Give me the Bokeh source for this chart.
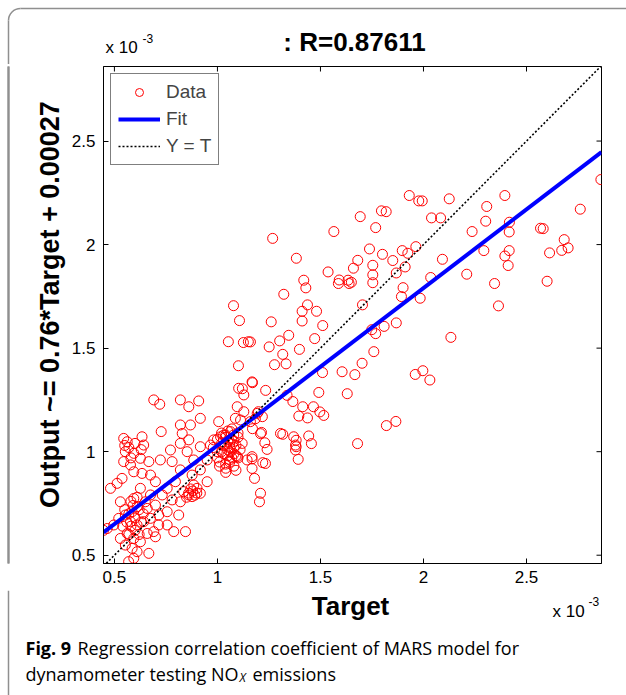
import math
from bokeh.plotting import figure
from bokeh.layouts import column, row
from bokeh.models import (Range1d, FixedTicker, Label, Legend, LegendItem, ColumnDataSource)
from bokeh.embed import file_html
from bokeh.resources import INLINE

# ---------------- data (units of 1e-3) ----------------
target_upper = [1.268, 1.565, 1.693, 1.768, 1.796, 1.819, 1.931, 1.977, 1.994, 2.125, 2.039, 2.083,
                2.395, 2.307, 2.302, 2.236, 2.417, 2.416, 2.761, 2.861, 2.568, 2.581, 2.683, 2.702,
                2.671, 2.612, 2.600, 2.416, 2.395, 2.411, 2.293, 2.345, 2.364, 2.210, 2.092, 2.035,
                1.984, 2.133, 1.963, 1.924, 1.897, 1.911, 1.868, 1.851, 1.801, 1.738, 1.754, 1.754,
                1.754, 1.681, 1.660, 1.537, 1.591, 1.587, 1.634, 1.650, 1.639, 1.901, 1.893, 1.704,
                1.868, 1.809, 1.749, 1.768, 1.759, 1.702, 1.667, 1.605, 1.630, 1.960, 1.997, 2.031,
                1.820, 1.866, 1.680, 1.383, 1.419, 1.429, 1.322, 1.437, 1.411, 1.481, 1.411, 1.261,
                1.511, 1.346, 1.302, 1.251, 1.472, 1.398, 1.317, 1.277, 1.333, 1.160, 1.510, 1.168,
                1.234, 1.492, 1.338, 1.366, 1.414, 1.466, 1.497, 1.516, 1.395, 1.437, 1.317, 1.370,
                1.382, 1.443, 1.456, 1.379, 1.230, 1.241, 1.184, 1.199, 1.218, 1.170, 1.209,
                1.078, 1.107, 1.053, 1.126, 1.150, 1.102, 1.170, 1.121,
                1.382, 1.168, 1.220, 1.233, 1.392, 1.180, 1.209, 1.204, 1.214]
output_upper = [2.030, 2.063, 2.135, 2.082, 2.163, 2.159, 2.237, 2.211, 2.211, 2.221, 2.129, 2.129,
                2.237, 2.184, 2.113, 2.063, 2.108, 2.061, 2.171, 2.314, 2.079, 2.077, 2.024, 1.984,
                1.972, 1.960, 1.823, 1.971, 1.945, 1.899, 1.971, 1.812, 1.704, 1.857, 1.929, 1.841,
                1.741, 1.552, 1.990, 1.958, 1.971, 1.892, 1.863, 1.923, 1.953, 1.979, 1.900, 1.854,
                1.816, 1.924, 1.886, 1.868, 1.829, 1.812, 1.828, 1.818, 1.812, 1.792, 1.749, 1.709,
                1.622, 1.605, 1.589, 1.570, 1.483, 1.427, 1.372, 1.386, 1.280, 1.373, 1.391, 1.346,
                1.126, 1.146, 1.039, 1.934, 1.828, 1.791, 1.760, 1.709, 1.678, 1.678, 1.631, 1.627,
                1.609, 1.562, 1.535, 1.506, 1.546, 1.494, 1.470, 1.420, 1.424, 1.530, 1.382, 1.337,
                1.296, 1.286, 1.272, 1.242, 1.217, 1.217, 1.192, 1.175, 1.172, 1.163, 1.084, 1.072,
                1.055, 1.076, 1.039, 1.032, 1.043, 1.011, 1.159, 1.193, 1.169, 1.111, 1.087,
                1.705, 1.633, 1.531, 1.527, 1.531, 1.415, 1.333, 1.304,
                1.024, 0.965, 0.947, 0.943, 0.963, 0.871, 0.799, 0.758, 1.093]

target_mid = [0.691, 0.720, 0.820, 0.861, 0.909, 1.103, 1.128, 1.096, 1.128, 1.193, 1.087, 1.112,
              1.160, 1.006, 0.820, 0.917, 0.869,
              0.545, 0.562, 0.634, 0.727, 0.642, 0.553, 0.594, 0.626, 0.667, 0.723, 0.545, 0.578,
              0.594, 0.537, 0.481, 0.513, 0.634, 0.675, 0.699, 0.772, 0.820, 0.861, 0.829, 0.853,
              0.885, 0.917, 0.780, 0.820, 0.877, 0.917, 0.950, 0.966, 0.982, 1.015, 1.063, 1.079,
              1.039, 0.999, 0.950, 0.885, 0.836, 0.796, 0.756, 0.732, 0.780, 0.820, 0.861, 0.877,
              0.917, 0.901, 1.306, 1.379, 1.096, 1.144, 1.168, 1.168,
              0.86, 0.88, 0.89, 0.87, 0.90, 0.85, 0.57, 0.60, 0.55, 0.63, 0.58]
output_mid = [1.250, 1.229, 1.250, 1.217, 1.245, 1.306, 1.274, 1.217, 1.193, 1.185, 1.161, 1.153,
              1.145, 1.145, 1.129, 1.161, 1.129,
              1.064, 1.048, 1.072, 1.097, 1.032, 1.000, 0.992, 0.968, 0.952, 0.960, 0.952, 0.936,
              0.903, 0.871, 0.823, 0.847, 0.895, 0.887, 0.855, 1.008, 1.040, 1.057, 1.088, 1.000,
              0.960, 1.024, 0.952, 0.912, 0.887, 0.912, 0.960, 1.032, 1.057, 1.072, 1.097, 1.081,
              1.032, 1.000, 0.855, 0.839, 0.807, 0.855, 0.823, 0.791, 0.767, 0.758, 0.791, 0.783,
              0.799, 0.823, 1.088, 1.008, 0.976, 0.960, 0.976, 0.919,
              0.80, 0.81, 0.79, 0.82, 0.80, 0.78, 1.02, 1.04, 1.03, 1.01, 0.97]

target_low = [0.447, 0.465, 0.497, 0.521, 0.553, 0.586, 0.610, 0.650, 0.675, 0.594, 0.529, 0.626,
              0.659, 0.699, 0.578, 0.610, 0.642, 0.675, 0.715, 0.756, 0.715, 0.756, 0.788, 0.845,
              0.812, 0.691, 0.659, 0.562, 0.529, 0.594, 0.626, 0.553, 0.586, 0.610, 0.569, 0.594,
              0.667, 0.699,
              0.57, 0.60, 0.58, 0.62, 0.56, 0.60, 0.63, 0.59, 0.55, 0.61, 0.57, 0.64, 0.54, 0.58, 0.62]
output_low = [0.620, 0.629, 0.646, 0.678, 0.694, 0.710, 0.734, 0.758, 0.791, 0.774, 0.758, 0.823,
              0.726, 0.742, 0.662, 0.646, 0.662, 0.678, 0.694, 0.710, 0.646, 0.646, 0.614, 0.614,
              0.694, 0.614, 0.605, 0.605, 0.581, 0.581, 0.565, 0.549, 0.533, 0.517, 0.469, 0.485,
              0.509, 0.589,
              0.70, 0.68, 0.64, 0.72, 0.66, 0.62, 0.66, 0.74, 0.72, 0.78, 0.60, 0.70, 0.64, 0.76, 0.60]

target_cluster = [1.00, 1.02, 1.04, 1.06, 1.08, 1.10, 1.03, 1.05, 1.07, 1.09, 1.01, 1.04, 1.06, 1.08,
                  1.11, 1.02, 1.05, 1.07, 1.03, 1.06, 1.09, 1.04, 1.08, 1.00, 1.05, 1.10, 1.02, 1.07,
                  1.12, 1.04, 1.06, 1.09, 0.98, 1.03, 1.05, 1.08, 1.01, 1.06, 1.10, 1.04]
output_cluster = [1.06, 1.04, 1.08, 1.02, 1.05, 1.07, 0.99, 1.01, 0.97, 1.03, 0.95, 0.94, 0.96, 0.99,
                  1.01, 1.09, 1.10, 1.06, 1.03, 1.00, 0.98, 0.92, 0.93, 0.97, 1.05, 1.09, 1.00, 1.11,
                  1.04, 1.07, 0.95, 0.91, 1.02, 1.08, 0.98, 1.02, 0.93, 1.04, 0.97, 0.90]

target = target_upper + target_mid + target_low + target_cluster
output = output_upper + output_mid + output_low + output_cluster

x_axis_min, x_axis_max = 0.447, 2.864
y_axis_min, y_axis_max = 0.46, 2.86
ticks = [0.5, 1, 1.5, 2, 2.5]
tick_labels = ["0.5", "1", "1.5", "2", "2.5"]
fit_slope, fit_intercept = 0.76, 0.27
r_value = "0.87611"
y_title = "Output ~= %.2f*Target + %.5f" % (fit_slope, fit_intercept / 1000)

W, H = 626, 695
TOP_H = 64          # strip above the axes (title, multiplier)
BOT_H = 105         # strip below the axes (x label, caption)
MID_H = H - TOP_H - BOT_H
SIDE_W = 68         # strip holding the panel border and the y title
BORDER = "#8f8f8f"
BX = 8.0            # panel border position (px)
RAD = 12.0
FONT = "Liberation Sans"
CAP = "Open Sans"


def strip(w, h):
    f = figure(width=w, height=h, x_range=Range1d(0, w), y_range=Range1d(0, h),
               output_backend="svg", toolbar_location=None, min_border=0,
               x_axis_location=None, y_axis_location=None)
    f.grid.visible = False
    f.outline_line_color = None
    f.title.visible = False
    f.background_fill_color = "white"
    f.border_fill_color = "white"
    return f


def label(f, text, x, y, size, bold=False, italic=False, font=FONT, align="left", angle=0.0):
    style = "bold" if bold else ("italic" if italic else "normal")
    f.add_layout(Label(x=x, y=y, text=text, text_font=font, text_font_size=size,
                       text_font_style=style, text_align=align, angle=angle,
                       text_baseline="middle", text_color="black"))


# ---------------- top strip ----------------
top = strip(W, TOP_H)
ty = lambda cy: TOP_H - cy
top.line([BX + RAD, W], [ty(BX), ty(BX)], line_color=BORDER, line_width=1.5)
top.line([BX, BX], [ty(BX + RAD), 0], line_color=BORDER, line_width=1.5)
top.arc(x=BX + RAD, y=ty(BX + RAD), radius=RAD, start_angle=math.pi / 2, end_angle=math.pi,
        direction="anticlock", line_color=BORDER, line_width=1.5)
label(top, ": R=" + r_value, 354, ty(41), "26px", bold=True, align="center")
label(top, "x 10", 105, ty(47), "17px")
label(top, "-3", 142, ty(38), "12px")

# ---------------- left strip: panel border + y title ----------------
side = strip(SIDE_W, MID_H)
sy = lambda cy: (TOP_H + MID_H) - cy
side.quad(left=[BX - 0.75], right=[BX + 0.75], bottom=[-2], top=[MID_H + 2],
          fill_color=BORDER, line_color=None)
try:
    # thin filled box drawn by an (empty) label: the panel's left border
    # padding is (horizontal, vertical)
    side.add_layout(Label(x=BX, y=MID_H / 2, text=" ", text_font_size="1px",
                          text_align="center", text_baseline="middle",
                          padding=(1, MID_H // 2 + 4),
                          background_fill_color=BORDER, background_fill_alpha=1))
except Exception:
    pass
label(side, y_title, 49, sy(316), "27px", bold=True, align="center", angle=math.pi / 2)

# ---------------- main axes ----------------
FL, FR, FT = 103 - SIDE_W, 25, 66 - TOP_H
FB = MID_H - 497 - FT
p = figure(width=W - SIDE_W, height=MID_H, x_range=Range1d(x_axis_min, x_axis_max),
           y_range=Range1d(y_axis_min, y_axis_max), output_backend="svg",
           toolbar_location=None, min_border_left=FL, min_border_right=FR,
           min_border_top=FT, min_border_bottom=FB)
p.title.visible = False
p.background_fill_color = "white"
p.border_fill_color = "white"
p.outline_line_color = "black"
p.outline_line_width = 1
p.grid.visible = False

overrides = {t: l for t, l in zip(ticks, tick_labels)}
for ax, standoff in ((p.xaxis[0], 7), (p.yaxis[0], 8)):
    ax.ticker = FixedTicker(ticks=ticks)
    ax.major_tick_in = 5
    ax.major_tick_out = 0
    ax.minor_tick_in = 0
    ax.minor_tick_out = 0
    ax.axis_line_color = "black"
    ax.major_tick_line_color = "black"
    ax.major_label_text_font = FONT
    ax.major_label_text_font_size = "17px"
    ax.major_label_text_color = "black"
    ax.major_label_standoff = standoff
    ax.major_label_overrides = overrides

# ticks on the top and right edges of the box (MATLAB "box on")
p.ray(x=ticks, y=[y_axis_max] * len(ticks), length=5, length_units="screen",
      angle=-math.pi / 2, line_color="black", line_width=1)
p.ray(x=[x_axis_max] * len(ticks), y=ticks, length=5, length_units="screen",
      angle=math.pi, line_color="black", line_width=1)

src = ColumnDataSource(dict(t=target, o=output))
r_data = p.scatter("t", "o", source=src, marker="circle", size=10,
                   fill_color=None, line_color="#ff0000", line_width=1)
fit_x = [x_axis_min, x_axis_max]
fit_y = [fit_slope * v + fit_intercept for v in fit_x]
r_fit = p.line(fit_x, fit_y, line_color="#0000ff", line_width=4)
r_yt = p.line([x_axis_min, x_axis_max], [x_axis_min, x_axis_max], line_color="black",
              line_width=1.6, line_dash="2 2")

legend = Legend(items=[LegendItem(label="Data", renderers=[r_data]),
                       LegendItem(label="Fit", renderers=[r_fit]),
                       LegendItem(label="Y = T", renderers=[r_yt])],
                location="top_left", margin=7, padding=7, spacing=5,
                glyph_width=42, glyph_height=20, label_height=20, label_standoff=6,
                label_text_font=FONT, label_text_font_size="19px",
                border_line_color="black", border_line_width=1,
                background_fill_color="white", background_fill_alpha=1)
p.add_layout(legend, "center")

# ---------------- bottom strip ----------------
bot = strip(W, BOT_H)
by = lambda cy: H - cy
bot.line([BX, BX], [0, BOT_H], line_color=BORDER, line_width=1.5)
label(bot, "Target", 350, by(605), "26px", bold=True, align="center")
label(bot, "x 10", 552, by(611), "17px")
label(bot, "-3", 588, by(601), "12px")
label(bot, "Fig. 9", 25, by(647), "18px", bold=True, font=CAP)
label(bot, "Regression correlation coefficient of MARS model for", 77, by(647), "18px", font=CAP)
label(bot, "dynamometer testing NO", 25, by(673), "18px", font=CAP)
label(bot, "X", 239, by(677), "12px", italic=True, font=CAP)
label(bot, "emissions", 252, by(673), "18px", font=CAP)

layout = column(top, row(side, p, spacing=0), bot, spacing=0)
open("out.html", "w").write(file_html(layout, INLINE))
